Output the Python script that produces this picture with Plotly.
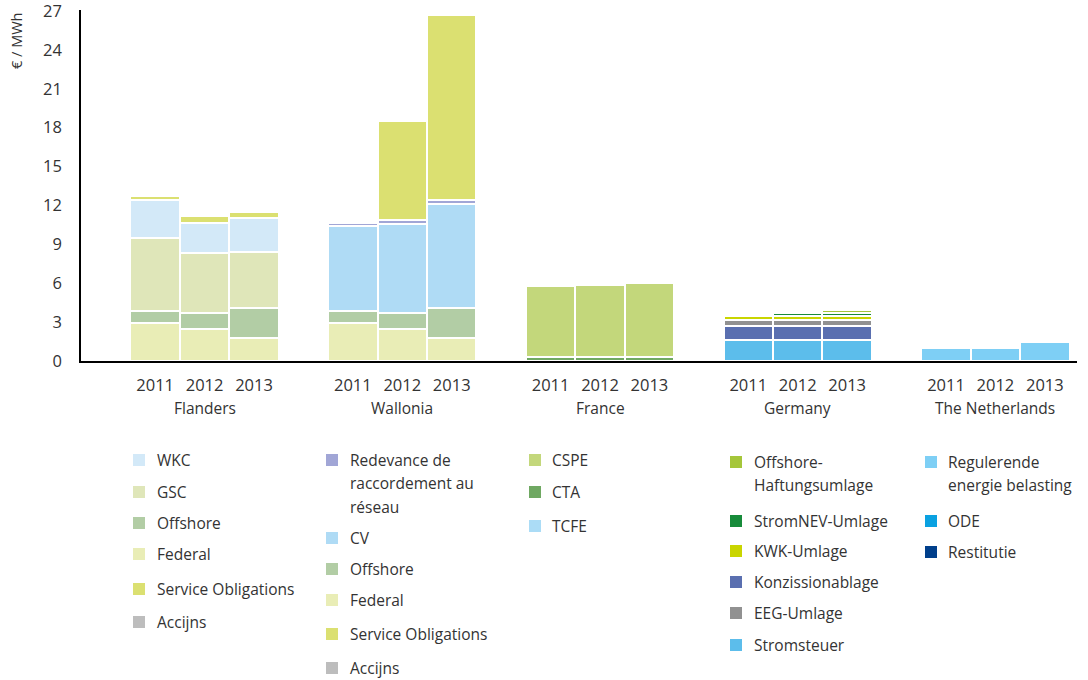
import plotly.graph_objects as go

# ---- data (EUR / MWh) ----
years = ["2011", "2012", "2013"]
regions = ["Flanders", "Wallonia", "France", "Germany", "The Netherlands"]

# Flanders
fl_federal = [2.95, 2.48, 1.75]
fl_offshore = [0.90, 1.19, 2.33]
fl_gsc = [5.62, 4.63, 4.31]
fl_wkc = [2.96, 2.33, 2.68]
fl_service = [0.30, 0.59, 0.46]
fl_accijns = [0.08, 0.0, 0.0]

# Wallonia
wa_federal = [2.95, 2.48, 1.75]
wa_offshore = [0.90, 1.19, 2.33]
wa_cv = [6.57, 6.91, 8.07]
wa_redevance = [0.26, 0.31, 0.28]
wa_service = [0.10, 7.60, 14.30]
wa_accijns = [0.0, 0.0, 0.0]

# France
fr_cta = [0.30, 0.30, 0.30]
fr_cspe = [5.50, 5.60, 5.70]
fr_tcfe = [0.0, 0.0, 0.0]

# Germany
de_stromsteuer = [1.60, 1.60, 1.60]
de_konzession = [1.10, 1.10, 1.10]
de_eeg = [0.50, 0.50, 0.50]
de_kwk = [0.25, 0.25, 0.25]
de_stromnev = [0.0, 0.25, 0.25]
de_offshore_h = [0.0, 0.0, 0.25]

# The Netherlands
nl_regulerende = [1.00, 1.00, 1.50]
nl_ode = [0.0, 0.0, 0.0]
nl_restitutie = [0.0, 0.0, 0.0]

y_ticks = [0, 3, 6, 9, 12, 15, 18, 21, 24, 27]

# ---- colours ----
C = {
    "WKC": "#d3e9f8", "GSC": "#dfe6b9", "Offshore": "#b2cda5", "Federal": "#e9edb6",
    "Service Obligations": "#dbe071", "Accijns": "#bdbdbd",
    "Redevance": "#a1a6d6", "CV": "#afdbf5",
    "CSPE": "#c3d77b", "CTA": "#6fa862", "TCFE": "#abdcf6",
    "Offshore-H": "#a5c63a", "StromNEV": "#178b3a", "KWK": "#c9d500",
    "Konz": "#5a6fb0", "EEG": "#919191", "Stromsteuer": "#5cbdeb",
    "Regulerende": "#7ecff5", "ODE": "#0aa1e1", "Restitutie": "#003f8b",
}

FONT = "Open Sans"
TXT = "#333333"

# each region occupies 4 slots on the x axis: three years plus a spacer
def xs(region_idx):
    return [4 * region_idx + 1 + j for j in range(len(years))]

fig = go.Figure()

def add(region_idx, values, color):
    fig.add_trace(go.Bar(
        x=xs(region_idx), y=values, width=1.0,
        marker=dict(color=color, line=dict(color="white", width=2)),
        showlegend=False, hoverinfo="y",
    ))

# stacks, bottom to top
for vals, key in [(fl_federal, "Federal"), (fl_offshore, "Offshore"), (fl_gsc, "GSC"),
                  (fl_wkc, "WKC"), (fl_service, "Service Obligations"), (fl_accijns, "Accijns")]:
    add(0, vals, C[key])
for vals, key in [(wa_federal, "Federal"), (wa_offshore, "Offshore"), (wa_cv, "CV"),
                  (wa_redevance, "Redevance"), (wa_service, "Service Obligations"), (wa_accijns, "Accijns")]:
    add(1, vals, C[key])
for vals, key in [(fr_cta, "CTA"), (fr_cspe, "CSPE"), (fr_tcfe, "TCFE")]:
    add(2, vals, C[key])
for vals, key in [(de_stromsteuer, "Stromsteuer"), (de_konzession, "Konz"), (de_eeg, "EEG"),
                  (de_kwk, "KWK"), (de_stromnev, "StromNEV"), (de_offshore_h, "Offshore-H")]:
    add(3, vals, C[key])
for vals, key in [(nl_regulerende, "Regulerende"), (nl_ode, "ODE"), (nl_restitutie, "Restitutie")]:
    add(4, vals, C[key])

# ---- layout geometry (pixels) ----
W, H = 1088, 680
ML, MR, MT, MB = 81, 11, 10, 319
PW, PH = W - ML - MR, H - MT - MB
Y_TOP = 27 + 1 / 12.963   # axis line runs a pixel past the last tick

def px(xp):
    return (xp - ML) / PW

def py(yp):
    return (H - MB - yp) / PH

tickvals, ticktext = [], []
for i in range(len(regions)):
    tickvals += xs(i)
    ticktext += years

annotations = []
for i, name in enumerate(regions):
    annotations.append(dict(
        x=4 * i + 2, xref="x", y=py(408), yref="paper", text=name, showarrow=False,
        xanchor="center", yanchor="middle", font=dict(family=FONT, size=15.5, color=TXT),
    ))

annotations.append(dict(
    x=px(17), xref="paper", y=py(41), yref="paper", text="€ / MWh", textangle=-90,
    showarrow=False, xanchor="center", yanchor="middle",
    font=dict(family=FONT, size=14.5, color=TXT),
))

# legend: columns of coloured squares with labels
legend_cols = [
    (133, 155, [("WKC", ["WKC"], 460), ("GSC", ["GSC"], 492), ("Offshore", ["Offshore"], 523),
                ("Federal", ["Federal"], 554), ("Service Obligations", ["Service Obligations"], 589),
                ("Accijns", ["Accijns"], 622)]),
    (326, 348, [("Redevance", ["Redevance de", "raccordement au", "réseau"], 460),
                ("CV", ["CV"], 538), ("Offshore", ["Offshore"], 569), ("Federal", ["Federal"], 600),
                ("Service Obligations", ["Service Obligations"], 634), ("Accijns", ["Accijns"], 668)]),
    (529, 550, [("CSPE", ["CSPE"], 460), ("CTA", ["CTA"], 492), ("TCFE", ["TCFE"], 526)]),
    (730, 752, [("Offshore-H", ["Offshore-", "Haftungsumlage"], 462), ("StromNEV", ["StromNEV-Umlage"], 521),
                ("KWK", ["KWK-Umlage"], 551), ("Konz", ["Konzissionablage"], 582),
                ("EEG", ["EEG-Umlage"], 613), ("Stromsteuer", ["Stromsteuer"], 645)]),
    (925, 946, [("Regulerende", ["Regulerende", "energie belasting"], 462), ("ODE", ["ODE"], 521),
                ("Restitutie", ["Restitutie"], 552)]),
]

shapes = []
LINE_H = 23.3
for sq_x, tx_x, items in legend_cols:
    for key, lines, yc in items:
        shapes.append(dict(
            type="rect", xref="paper", yref="paper",
            x0=px(sq_x), x1=px(sq_x + 12), y0=py(yc + 6), y1=py(yc - 6),
            fillcolor=C[key], line=dict(width=0),
        ))
        for k, line in enumerate(lines):
            annotations.append(dict(
                x=px(tx_x), xref="paper", y=py(yc + k * LINE_H), yref="paper", text=line,
                showarrow=False, xanchor="left", yanchor="middle",
                font=dict(family=FONT, size=15.5, color=TXT),
            ))

fig.update_layout(
    width=W, height=H,
    margin=dict(l=ML, r=MR, t=MT, b=MB, pad=0, autoexpand=False),
    barmode="stack", bargap=0,
    plot_bgcolor="white", paper_bgcolor="white",
    font=dict(family=FONT, size=16, color=TXT),
    xaxis=dict(
        range=[-0.5, 19.65], tickmode="array", tickvals=tickvals, ticktext=ticktext,
        showline=True, linecolor="#000000", linewidth=1.5, showgrid=False, zeroline=False,
        ticks="", ticklabelstandoff=8, automargin=False,
        tickfont=dict(family=FONT, size=16.5, color=TXT),
    ),
    yaxis=dict(
        range=[0, Y_TOP], tickmode="array", tickvals=y_ticks,
        showline=True, linecolor="#000000", linewidth=1.5, showgrid=False, zeroline=False,
        ticks="", ticklabelstandoff=14, ticklabeloverflow="allow", automargin=False,
        tickfont=dict(family=FONT, size=16.5, color=TXT),
    ),
    annotations=annotations, shapes=shapes, showlegend=False,
)

fig.write_html("out.html")
